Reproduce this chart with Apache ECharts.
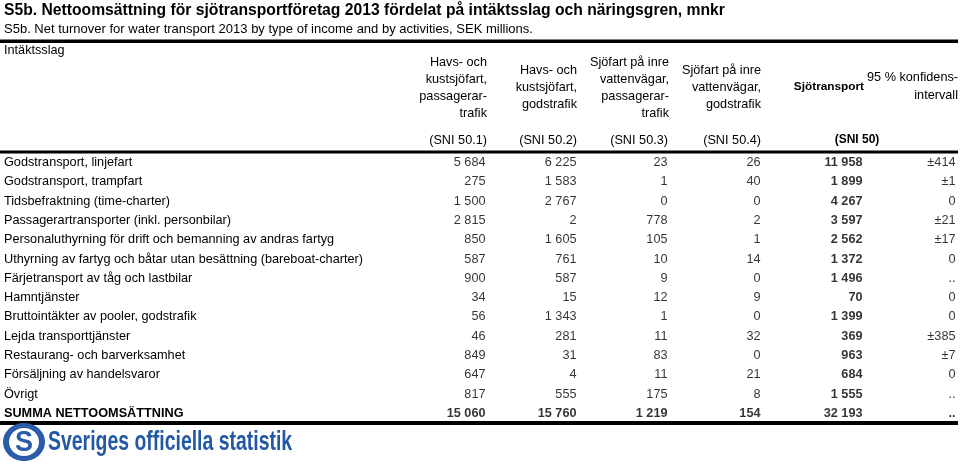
<!DOCTYPE html>
<html>
<head>
<meta charset="utf-8">
<script src="https://cdn.jsdelivr.net/npm/echarts@6/dist/echarts.min.js"></script>
<style>html,body{margin:0;padding:0;background:#fff}#c{width:960px;height:464px}</style>
</head>
<body>
<div id="c"></div>
<script>
const titleText = 'S5b. Nettoomsättning för sjötransportföretag 2013 fördelat på intäktsslag och näringsgren, mnkr';
const subtitleText = 'S5b. Net turnover for water transport 2013 by type of income and by activities, SEK millions.';
const stubHeader = 'Intäktsslag';
const rowLabels = [
  'Godstransport, linjefart',
  'Godstransport, trampfart',
  'Tidsbefraktning (time-charter)',
  'Passagerartransporter (inkl. personbilar)',
  'Personaluthyrning för drift och bemanning av andras fartyg',
  'Uthyrning av fartyg och båtar utan besättning (bareboat-charter)',
  'Färjetransport av tåg och lastbilar',
  'Hamntjänster',
  'Bruttointäkter av pooler, godstrafik',
  'Lejda transporttjänster',
  'Restaurang- och barverksamhet',
  'Försäljning av handelsvaror',
  'Övrigt',
  'SUMMA NETTOOMSÄTTNING'
];
const colHeaders = [
  'Havs- och\nkustsjöfart,\npassagerar-\ntrafik',
  'Havs- och\nkustsjöfart,\ngodstrafik',
  'Sjöfart på inre\nvattenvägar,\npassagerar-\ntrafik',
  'Sjöfart på inre\nvattenvägar,\ngodstrafik',
  'Sjötransport',
  '95 % konfidens-\nintervall'
];
const colCodes = ['(SNI 50.1)', '(SNI 50.2)', '(SNI 50.3)', '(SNI 50.4)', '(SNI 50)', ''];
const sni501 = [5684, 275, 1500, 2815, 850, 587, 900, 34, 56, 46, 849, 647, 817, 15060];
const sni502 = [6225, 1583, 2767, 2, 1605, 761, 587, 15, 1343, 281, 31, 4, 555, 15760];
const sni503 = [23, 1, 0, 778, 105, 10, 9, 12, 1, 11, 83, 11, 175, 1219];
const sni504 = [26, 40, 0, 2, 1, 14, 0, 9, 0, 32, 0, 21, 8, 154];
const sni50 = [11958, 1899, 4267, 3597, 2562, 1372, 1496, 70, 1399, 369, 963, 684, 1555, 32193];
const confInterval = ['±414', '±1', '0', '±21', '±17', '0', '..', '0', '0', '±385', '±7', '0', '..', '..'];
const logoText = 'Sveriges officiella statistik';

const FONT = '"Liberation Sans", Arial, Helvetica, sans-serif';
const FS = 12.7;
const columns = [sni501, sni502, sni503, sni504, sni50, confInterval];
const colRight = [486, 577, 668, 761, 863, 956];
const boldCol = [false, false, false, false, true, false];
const TOP = 153, H = 270;
const fmt = v => typeof v === 'number' ? String(v).replace(/\B(?=(\d{3})+(?!\d))/g, ' ') : v;
const lastRow = rowLabels.length - 1;

const grid = [{ left: 0, right: 2, top: TOP, height: H }];
const xAxis = [{ type: 'value', gridIndex: 0, min: 0, max: 1, show: false }];
const yAxis = [{
  type: 'category', gridIndex: 0, data: rowLabels, inverse: true,
  axisLine: { show: false }, axisTick: { show: false }, splitLine: { show: false },
  axisLabel: {
    inside: true, margin: 4, color: '#000', fontSize: FS, fontFamily: FONT,
    formatter: (v, i) => i === lastRow ? '{b|' + v + '}' : v,
    rich: { b: { fontWeight: 'bold', fontSize: FS, fontFamily: FONT, color: '#000' } }
  }
}];
const series = [];
columns.forEach((col, c) => {
  grid.push({ right: 960 - colRight[c], width: 80, top: TOP, height: H });
  xAxis.push({ type: 'value', gridIndex: c + 1, min: 0, max: 1, show: false });
  yAxis.push({ type: 'category', gridIndex: c + 1, data: rowLabels, inverse: true, show: false });
  series.push({
    type: 'scatter', xAxisIndex: c + 1, yAxisIndex: c + 1, symbolSize: 1,
    itemStyle: { color: 'rgba(0,0,0,0)' }, silent: true,
    data: col.map((v, i) => ({
      value: [1, rowLabels[i], v],
      label: { fontWeight: (boldCol[c] || i === lastRow) ? 'bold' : 'normal' }
    })),
    label: {
      show: true, position: 'left', distance: 0, color: '#000', fontSize: FS, fontFamily: FONT,
      formatter: p => fmt(p.value[2])
    }
  });
});

const txt = (text, x, y, opt) => ({
  type: 'text', silent: true,
  style: Object.assign({ text, x, y, fill: '#000', fontSize: FS, fontFamily: FONT, align: 'right', verticalAlign: 'middle', lineHeight: 17 }, opt || {})
});

const graphic = [
  txt(titleText, 4, 11, { align: 'left', fontSize: 15.7, fontWeight: 'bold' }),
  txt(subtitleText, 4, 29, { align: 'left', fontSize: 13 }),
  { type: 'rect', silent: true, shape: { x: 0, y: 39.5, width: 958, height: 3.5 }, style: { fill: '#000' } },
  txt(stubHeader, 4, 50, { align: 'left' }),
  txt(colHeaders[0], colRight[0] + 1, 88),
  txt(colHeaders[1], colRight[1], 87),
  txt(colHeaders[2], colRight[2] + 1, 88),
  txt(colHeaders[3], colRight[3], 87),
  txt(colHeaders[4], colRight[4] + 1, 87, { fontWeight: 'bold', fontSize: 11.8 }),
  txt(colHeaders[5], 958, 86, { lineHeight: 18 }),
  txt(colCodes[0], colRight[0] + 1, 140),
  txt(colCodes[1], colRight[1], 140),
  txt(colCodes[2], colRight[2], 140),
  txt(colCodes[3], colRight[3], 140),
  txt(colCodes[4], 857, 140, { align: 'center', fontWeight: 'bold', fontSize: 12 }),
  { type: 'rect', silent: true, shape: { x: 0, y: 150.5, width: 958, height: 3 }, style: { fill: '#000' } },
  { type: 'rect', silent: true, shape: { x: 0, y: 421, width: 958, height: 4 }, style: { fill: '#000' } },
  { type: 'ellipse', silent: true, shape: { cx: 24, cy: 442, rx: 21, ry: 19 }, style: { fill: '#2a5ca8' } },
  { type: 'ellipse', silent: true, shape: { cx: 24, cy: 442, rx: 15, ry: 14 }, style: { fill: '#fff' } },
  { type: 'text', silent: true, x: 24, y: 443, scaleX: 0.9, style: { text: 'S', x: 0, y: 0, align: 'center', verticalAlign: 'middle', fontSize: 30, fontWeight: 'bold', fontFamily: FONT, fill: '#2a5ca8' } },
  { type: 'text', silent: true, x: 48, y: 443, scaleX: 0.72, style: { text: logoText, x: 0, y: 0, align: 'left', verticalAlign: 'middle', fontSize: 27, fontWeight: 'bold', fontFamily: FONT, fill: '#2358a6' } }
];

const chart = echarts.init(document.getElementById('c'), null, { renderer: 'canvas' });
chart.setOption({ animation: false, grid, xAxis, yAxis, series, graphic });
</script>
</body>
</html>
